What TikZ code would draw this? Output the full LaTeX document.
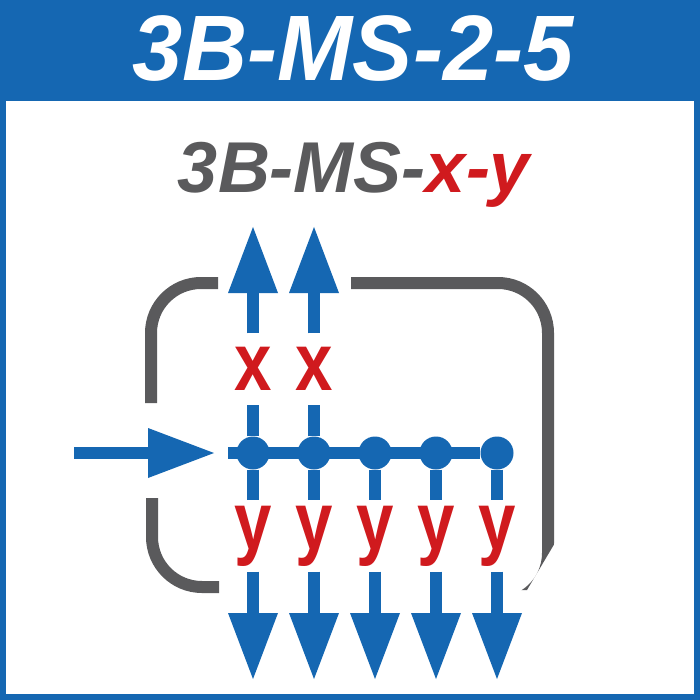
\documentclass[tikz,border=0pt]{standalone}
\usepackage{fontspec}
\setmainfont{Liberation Sans}
\usetikzlibrary{arrows.meta}
\usetikzlibrary{positioning}
\definecolor{chipblue}{RGB}{21,103,178}
\definecolor{chipgray}{RGB}{90,90,92}
\definecolor{chipred}{RGB}{208,26,30}
\newcommand{\narrowtag}[1]{\scalebox{0.82}[1]{#1}}
\tikzset{flow/.style = {draw=chipblue, line width=12pt}}
\tikzset{bigtip/.style = {-{Triangle[length=66pt, width=50pt, line width=0pt]}}}
\tikzset{junction/.style = {fill=chipblue, circle, inner sep = 0, minimum size = 33pt}}
\tikzset{tag/.style = {text=chipred, font=\bfseries\fontsize{82}{82}\selectfont,
                       inner sep = 0, minimum height = 71pt}}
\tikzset{bracket/.style = {draw=chipgray, line width=12pt, rounded corners=50pt}}

\begin{document}
\begin{tikzpicture}[x=1pt, y=-1pt]
    \fill [chipblue] (0, 0) rectangle (700, 700);
    \fill [white] (6, 101) rectangle (694, 694);

    \node [text=white, font=\bfseries\itshape\fontsize{93}{93}\selectfont] (title) at (353, 48.5)
      {\scalebox{0.97}[1]{3B-MS-2-5}};
    \node [anchor=base, text=chipgray, font=\bfseries\itshape\fontsize{72}{72}\selectfont] (code) at (354, 193)
      {3B-MS-\textcolor{chipred}{x-y}};

    % housing
    \draw [bracket] (218, 283) -- (151, 283) -- (151, 403);
    \begin{scope}
      \clip (340, 260) -- (600, 260) -- (600, 467) -- (527, 590) -- (340, 590) -- cycle;
      \draw [bracket] (351, 283) -- (548, 283) -- (548, 603) -- (450, 603);
    \end{scope}
    \draw [bracket] (152, 498) -- (152, 587) -- (219, 587);

    % feed
    \coordinate (src) at (74, 453);
    \coordinate (feed) at (214, 453);
    \draw [flow, bigtip] (src) -- (feed);

    \foreach \i/\x in {1/253, 2/314, 3/375, 4/436, 5/497} {
      \node [junction] (d\i) at (\x, 453) {};
    }
    \coordinate (bus) at (228, 453);
    \draw [flow] (bus) -- (d5);

    \foreach \i/\x in {1/253, 2/314} {
      \node [tag] (x\i) at (\x, 369) {\narrowtag{x}};
      \coordinate (up\i) at (\x, 227);
      \draw [flow] (d\i) -- (x\i);
      \draw [flow, bigtip] (x\i) -- (up\i);
    }

    \foreach \i/\x in {1/253, 2/314, 3/375, 4/436, 5/497} {
      \node [tag] (y\i) at (\x, 536) {\narrowtag{y}};
      \coordinate (dn\i) at (\x, 679);
      \draw [flow] (d\i) -- (y\i);
      \draw [flow, bigtip] (y\i) -- (dn\i);
    }
  \end{tikzpicture}
\end{document}
